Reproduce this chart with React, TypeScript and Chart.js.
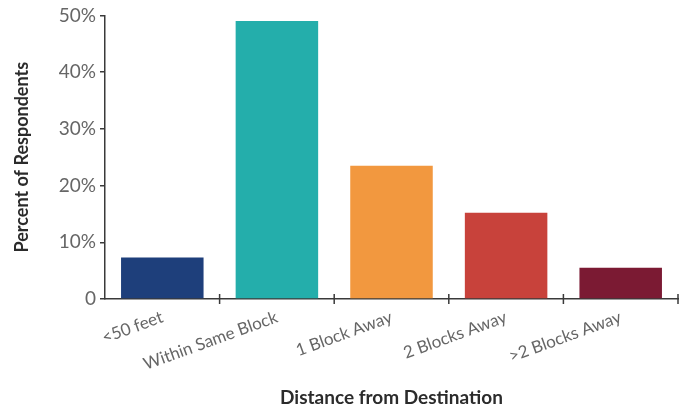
import React, { useEffect, useRef } from "react";
import { Chart, registerables } from "chart.js";

Chart.register(...registerables);

// Survey: how far respondents parked from where they were going
const categories = ["<50 feet", "Within Same Block", "1 Block Away", "2 Blocks Away", ">2 Blocks Away"];
const percentValues = [7.3, 49, 23.5, 15.2, 5.5];
const barColors = ["#1e3f7b", "#24aeab", "#f2983f", "#c8423b", "#7b1a33"];
const yTickValues = [0, 10, 20, 30, 40, 50];

const AXIS_COLOR = "#3a3a3a";
const LABEL_COLOR = "#666666";
const FONT = "Lato, 'Open Sans', sans-serif";

// Short crossing marks at the category boundaries of the x axis
const boundaryTicks = {
  id: "boundaryTicks",
  afterDraw(chart: any) {
    const x = chart.scales.x;
    const y0 = chart.scales.y.getPixelForValue(0);
    const ctx = chart.ctx;
    ctx.save();
    ctx.strokeStyle = AXIS_COLOR;
    ctx.lineWidth = 1.5;
    const n = categories.length;
    for (let i = 0; i < n; i++) {
      const c = x.getPixelForValue(i);
      const half = i < n - 1 ? (x.getPixelForValue(i + 1) - c) / 2 : (c - x.getPixelForValue(i - 1)) / 2;
      const bx = c + half;
      ctx.beginPath();
      ctx.moveTo(bx, y0 - 5);
      ctx.lineTo(bx, y0 + 5);
      ctx.stroke();
    }
    ctx.restore();
  },
};

export default function App() {
  const canvasRef = useRef<HTMLCanvasElement | null>(null);

  useEffect(() => {
    if (!canvasRef.current) return;
    const chart = new Chart(canvasRef.current, {
      type: "bar",
      data: {
        labels: categories,
        datasets: [
          {
            data: percentValues,
            backgroundColor: barColors,
            borderWidth: 0,
            barPercentage: 0.72,
            categoryPercentage: 1,
          },
        ],
      },
      options: {
        animation: false,
        responsive: false,
        layout: { padding: { left: 0, right: 11, top: 14, bottom: 0 } },
        plugins: { legend: { display: false }, tooltip: { enabled: false } },
        scales: {
          x: {
            afterFit(scale: any) {
              scale.height = 111;
            },
            grid: { display: false, offset: true },
            border: { display: true, color: AXIS_COLOR, width: 1.5 },
            ticks: {
              color: LABEL_COLOR,
              font: { family: FONT, size: 17 },
              minRotation: 20,
              maxRotation: 20,
              padding: 0,
              autoSkip: false,
            },
            title: {
              display: true,
              text: "Distance from Destination",
              color: "#2b2b2b",
              font: { family: FONT, size: 19, weight: "bold" },
              padding: { top: 0, bottom: 1 },
            },
          },
          y: {
            min: 0,
            max: 50,
            afterFit(scale: any) {
              scale.width = 105;
            },
            afterBuildTicks(scale: any) {
              scale.ticks = yTickValues.map((v) => ({ value: v }));
            },
            grid: {
              drawOnChartArea: false,
              drawTicks: true,
              tickLength: 5,
              color: AXIS_COLOR,
              lineWidth: 1.5,
            },
            border: { display: true, color: AXIS_COLOR, width: 1.5 },
            ticks: {
              color: LABEL_COLOR,
              font: { family: FONT, size: 19 },
              padding: 4,
              callback: (v: any) => (v === 0 ? "0" : v + "%"),
            },
            title: {
              display: true,
              text: "Percent of Respondents",
              color: "#2b2b2b",
              font: { family: FONT, size: 18, weight: "bold" },
              padding: { top: 11, bottom: 0 },
            },
          },
        },
      },
      plugins: [boundaryTicks],
    } as any);
    return () => chart.destroy();
  }, []);

  return (
    <div style={{ position: "fixed", left: 0, top: 0, width: 689, height: 410, background: "#fff" }}>
      <canvas ref={canvasRef} width={689} height={410} style={{ display: "block" }} />
    </div>
  );
}
